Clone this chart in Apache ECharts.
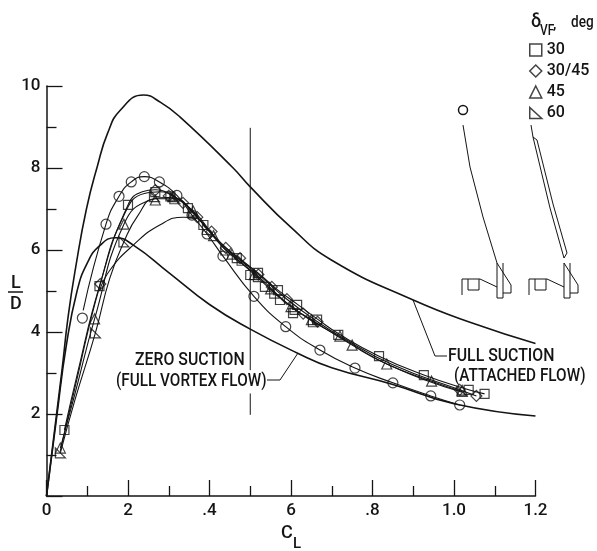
<!DOCTYPE html>
<html><head><meta charset="utf-8">
<script src="https://cdn.jsdelivr.net/npm/echarts@6/dist/echarts.min.js"></script>
<style>html,body{margin:0;background:#fff}#c{width:597px;height:551px}</style></head>
<body><div id="c"></div>
<script>
const xTickLabels = {0:'0',0.2:'2',0.4:'.4',0.6:'6',0.8:'.8',1:'1.0',1.2:'1.2'};
const yTickLabels = {2:'2',4:'4',6:'6',8:'8',10:'10'};

const fullSuction = [[0,0],[0.038,3.07],[0.053,4.37],[0.072,5.6],[0.098,7.0],[0.125,8.05],[0.15,8.85],[0.181,9.41],[0.238,9.78],[0.28,9.6],[0.328,9.24],[0.458,8.0],[0.5,7.54],[0.6,6.55],[0.7,5.75],[0.9,4.78],[1.05,4.2],[1.2,3.72]];
const zeroSuction = [[0,0],[0.026,2],[0.048,3.63],[0.075,5.0],[0.1,5.68],[0.13,6.1],[0.169,6.3],[0.213,6.12],[0.3,5.45],[0.4,4.67],[0.5,4.07],[0.615,3.49],[0.7,3.13],[0.85,2.72],[1.0,2.25],[1.2,1.95]];
const referenceLineCL = [[0.5,8.98],[0.5,3.07],[null,null],[0.5,2.5],[0.5,1.98]];

const curveCircle = [[0.09,4.53],[0.146,6.63],[0.178,7.31],[0.208,7.66],[0.24,7.79],[0.277,7.66],[0.32,7.33],[0.357,6.85],[0.394,6.39],[0.433,5.85],[0.509,4.87],[0.587,4.13],[0.671,3.56],[0.757,3.12],[0.85,2.76],[0.943,2.44],[1.014,2.22]];
const curveSquare = [[0.044,1.61],[0.075,2.95],[0.13,5.12],[0.2,7.1],[0.235,7.42],[0.267,7.47],[0.304,7.35],[0.348,7.05],[0.387,6.61],[0.43,6.15],[0.47,5.82],[0.519,5.44],[0.568,5.02],[0.615,4.68],[0.664,4.32],[0.718,3.95],[0.816,3.41],[0.926,2.95],[1.036,2.59],[1.075,2.49]];
const curveDiamond = [[0.034,1.1],[0.07,2.65],[0.132,5.17],[0.19,6.85],[0.24,7.38],[0.28,7.42],[0.335,7.15],[0.37,6.8],[0.44,6.05],[0.52,5.4],[0.59,4.8],[0.665,4.25],[0.72,3.9],[0.85,3.2],[1.014,2.59],[1.055,2.44]];
const curveTriangle = [[0.034,1.17],[0.07,2.5],[0.118,4.32],[0.19,6.63],[0.25,7.2],[0.3,7.28],[0.36,6.95],[0.41,6.35],[0.455,5.9],[0.51,5.4],[0.6,4.62],[0.65,4.3],[0.75,3.68],[0.835,3.22],[0.945,2.8],[1.02,2.55]];
const curveSixty = [[0.034,1.05],[0.07,2.35],[0.12,3.98],[0.155,5.3],[0.19,6.2],[0.225,6.85],[0.265,7.25],[0.315,7.25],[0.36,6.9],[0.395,6.5],[0.44,6.0],[0.52,5.35],[0.61,4.55],[0.72,3.88],[0.85,3.15],[1.02,2.53]];
const curveTrim = [[0.13,5.0],[0.155,5.5],[0.213,6.12],[0.278,6.61],[0.336,6.8],[0.365,6.78],[0.39,6.55]];

const circleMarks = [[0.088,4.34],[0.146,6.63],[0.178,7.31],[0.208,7.66],[0.24,7.79],[0.277,7.66],[0.32,7.33],[0.357,6.85],[0.394,6.39],[0.433,5.85],[0.509,4.87],[0.587,4.13],[0.671,3.56],[0.757,3.12],[0.85,2.76],[0.943,2.44],[1.014,2.22]];
const squareMarks = [[0.044,1.61],[0.13,5.12],[0.2,7.1],[0.267,7.41],[0.304,7.31],[0.347,7.02],[0.385,6.61],[0.467,5.8],[0.5,5.39],[0.519,5.44],[0.536,5.1],[0.568,5.02],[0.573,4.78],[0.615,4.66],[0.605,4.46],[0.664,4.3],[0.716,3.93],[0.816,3.41],[0.926,2.95],[1.036,2.59],[1.075,2.49]];
const diamondMarks = [[0.132,5.17],[0.267,7.46],[0.3,7.32],[0.335,7.15],[0.37,6.8],[0.405,6.45],[0.44,6.05],[0.475,5.8],[0.52,5.4],[0.553,5.1],[0.59,4.8],[0.63,4.45],[0.665,4.25],[1.014,2.59],[1.055,2.44]];
const triangleMarks = [[0.034,1.17],[0.118,4.32],[0.19,6.63],[0.267,7.22],[0.31,7.3],[0.36,6.95],[0.41,6.35],[0.455,5.9],[0.51,5.4],[0.55,5.05],[0.6,4.62],[0.65,4.3],[0.72,3.9],[0.75,3.68],[0.835,3.22],[0.945,2.8],[1.02,2.58]];
const sixtyMarks = [[0.034,1.05],[0.12,3.98],[0.19,6.2],[0.265,7.3],[0.315,7.25],[0.36,6.9],[0.395,6.5],[0.44,6.0],[0.48,5.75],[0.52,5.35],[0.56,4.95],[0.61,4.55],[0.655,4.25],[1.02,2.55]];

const INK = '#141414';
const FONT = 'Roboto,"Liberation Sans",sans-serif';
const RIGHT_TRI = 'path://M0,0 L0,10 L11,10 Z';

function curve(data, w, smooth){
  return {type:'line', data, smooth:smooth===undefined?0.5:smooth, showSymbol:false, symbol:'none', silent:true,
    lineStyle:{color:INK,width:w||1.1}, connectNulls:false, legendHoverLink:false, z:2};
}
function marks(name, data, symbol, size){
  return {type:'scatter', name, data, symbol, symbolSize:size, z:3,
    itemStyle:{color:'rgba(0,0,0,0)',borderColor:INK,borderWidth:1.2}};
}
function text(t,x,y,size,sx,extra){
  return {type:'text',x,y,scaleX:sx||1,style:Object.assign({text:t,fontFamily:FONT,fontSize:size,fontWeight:500,fill:INK,textVerticalAlign:'middle'},extra||{})};
}
function poly(points,w){
  return {type:'polyline',shape:{points},style:{stroke:INK,fill:null,lineWidth:w||1}};
}
function planform(dx,extra){
  const s=p=>p.map(q=>[q[0]+dx,q[1]]);
  return [
    poly(s([[497,263],[497,298],[503,298],[503,263]])),
    poly(s([[497,263],[511,285],[511,293],[503,293]])),
    poly(s([[497,287],[480,279],[462,279],[462,295]])),
    poly(s([[468,279],[468,290],[479,290],[479,279]]))
  ].concat(extra);
}

const chart = echarts.init(document.getElementById('c'),null,{renderer:'canvas'});
chart.setOption({
  animation:false,
  backgroundColor:'#fff',
  grid:{left:46.5,right:61.5,top:86,bottom:55,containLabel:false},
  xAxis:{type:'value',min:0,max:1.2,interval:0.2,
    axisLine:{lineStyle:{color:INK,width:1.5}},
    axisTick:{inside:true,length:16,lineStyle:{color:INK,width:1.3}},
    minorTick:{show:true,splitNumber:2,length:10,lineStyle:{color:INK,width:1.3}},
    splitLine:{show:false},
    axisLabel:{margin:6,color:INK,fontFamily:FONT,fontSize:17,fontWeight:500,
      formatter:v=>xTickLabels[Math.round(v*10)/10]||'',showMinLabel:true,showMaxLabel:true,hideOverlap:false}},
  yAxis:{type:'value',min:0,max:10,interval:2,
    axisLine:{lineStyle:{color:INK,width:1.5}},
    axisTick:{inside:true,length:16,lineStyle:{color:INK,width:1.3}},
    minorTick:{show:true,splitNumber:2,length:10,lineStyle:{color:INK,width:1.3}},
    splitLine:{show:false},
    axisLabel:{margin:6,color:INK,fontFamily:FONT,fontSize:17,fontWeight:500,
      formatter:v=>yTickLabels[v]||'',showMaxLabel:true}},
  legend:{show:true,orient:'vertical',left:524,top:35,itemWidth:12,itemHeight:12,itemGap:1,
    textStyle:{color:INK,fontFamily:FONT,fontSize:16,fontWeight:500,padding:[0,0,0,0],lineHeight:20},
    itemStyle:{borderWidth:1.5,borderColor:INK,color:'rgba(0,0,0,0)'},
    data:['30','30/45','45','60'],selectedMode:false},
  series:[
    curve(fullSuction,1.6), curve(zeroSuction,1.6), curve(referenceLineCL,1,false),
    curve(curveCircle), curve(curveSquare), curve(curveDiamond), curve(curveTriangle), curve(curveSixty), curve(curveTrim),
    marks('circle',circleMarks,'circle',10),
    marks('30',squareMarks,'rect',9),
    marks('30/45',diamondMarks,'diamond',11),
    marks('45',triangleMarks,'triangle',10),
    marks('60',sixtyMarks,RIGHT_TRI,10)
  ],
  graphic:{elements:[
    text('L',11,283,18),
    {type:'line',shape:{x1:8,y1:292,x2:23,y2:292},style:{stroke:INK,lineWidth:1.5}},
    text('D',10,304,18),
    text('C',281,533,18),
    text('L',293,544,15),
    text('δ',531,22,18),
    text('VF',540,31,14,0.85),
    text(',',553,25,15),
    text('deg',571,23,16,0.85),
    text('ZERO SUCTION',135,360,18,0.88),
    text('(FULL VORTEX FLOW)',116,381,18,0.85),
    text('FULL SUCTION',448,356,18,0.88),
    text('(ATTACHED FLOW)',454,376,18,0.85),
    poly([[298,353],[280,380],[267,380]]),
    poly([[413,300],[435,356],[447,356]]),
    {type:'circle',shape:{cx:463,cy:110,r:4.5},style:{stroke:INK,fill:null,lineWidth:1.5}},
    ...planform(0,[poly([[463,125],[470,167],[483,217],[497,263]])]),
    ...planform(67,[poly([[531,125],[533,137],[550,208],[564,258]]),poly([[533,137],[537,140],[553,204],[567,253],[564,258]])])
  ]}
});
</script></body></html>
